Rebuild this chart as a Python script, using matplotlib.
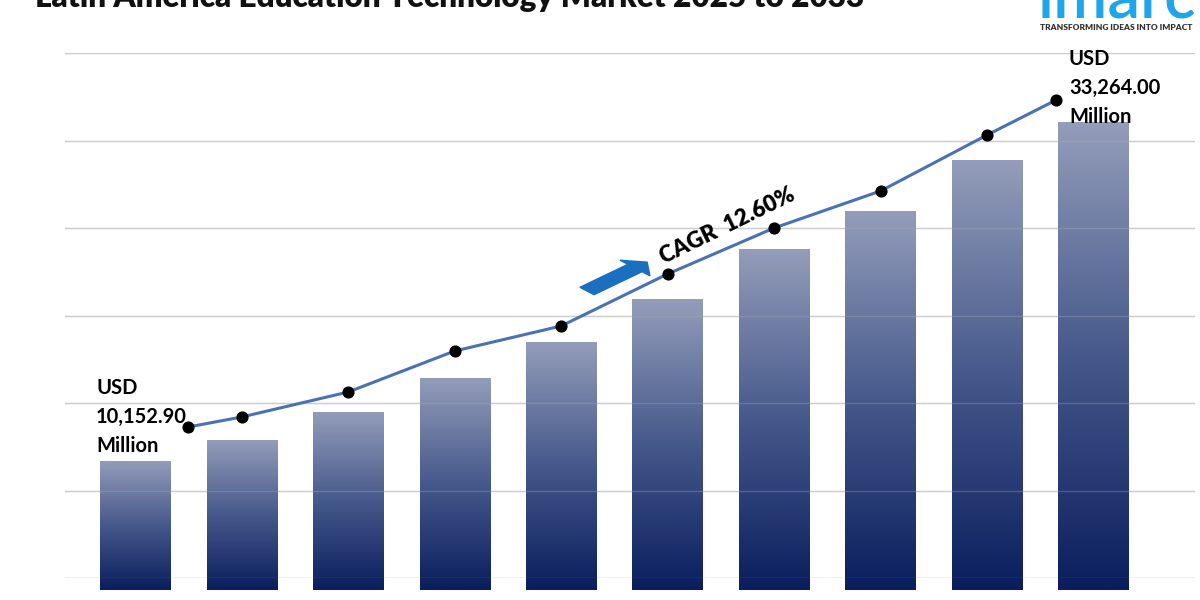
import numpy as np
import matplotlib.pyplot as plt
from matplotlib.colors import LinearSegmentedColormap
from matplotlib.patches import FancyArrow

# data (USD million)
years = list(range(2024, 2034))
bar_values = [9118, 10602, 12581, 14984, 17529, 20568, 24102, 26788, 30392, 33078]
line_values = [10152.9, 10857, 12623, 15521, 17288, 20964, 24215, 26830, 30788, 33264.0]
line_pos = [0.5, 1, 2, 3, 4, 5, 6, 7, 8, 8.65]
start_label = "USD\n10,152.90\nMillion"
end_label = "USD\n33,264.00\nMillion"
cagr_label = "CAGR  12.60%"
title = "Latin America Education Technology Market 2025 to 2033"

FONT = "Lato"
bar_cmap = LinearSegmentedColormap.from_list("bars", ["#0a1e5e", "#46598b", "#949dba"])
XLIM = (-1.27, 10.0)

fig = plt.figure(figsize=(12, 6), dpi=100)
fig.patch.set_facecolor("white")

# gridline frame
grid_box = [65 / 1200, 22 / 600, 1130 / 1200, 525 / 600]
grid_ax = fig.add_axes(grid_box)
grid_ax.set_ylim(0, 6)
for k in range(7):
    grid_ax.axhline(k, color="#d9d9d9", lw=1)
grid_ax.axis("off")

# bars with a vertical gradient
ax = fig.add_axes([0, 0, 1, 1], facecolor="none")
x = np.arange(len(years))
bars = ax.bar(x, bar_values, width=0.66, facecolor="none", edgecolor="none", zorder=2)
grad = np.linspace(1, 0, 256)[:, None]
for rect in bars:
    x0 = rect.get_x()
    im = ax.imshow(grad, extent=(x0, x0 + rect.get_width(), 0, rect.get_height()),
                   cmap=bar_cmap, aspect="auto", zorder=2)
    im.set_clip_path(rect)
ax.set_xlim(*XLIM)
ax.set_ylim(-707, 41700)
ax.axis("off")

# gridlines faintly visible over the bars
over = fig.add_axes(grid_box, facecolor="none")
over.set_ylim(0, 6)
for k in range(7):
    over.axhline(k, color="#b0b0b0", lw=1, alpha=0.3)
over.axis("off")

# growth line
lax = fig.add_axes([0, 0, 1, 1], facecolor="none")
zero_px = 600 - 570.6
scale = 70.68
lax.plot(line_pos, line_values, color="#4a72b3", lw=2.2, zorder=3)
lax.scatter(line_pos, line_values, s=60, color="black", zorder=4)
lax.set_xlim(*XLIM)
lax.set_ylim(-zero_px * scale, (600 - zero_px) * scale)
lax.axis("off")

# value labels
fig.text(96 / 1200, 1 - 378 / 600, start_label, ha="left", va="top", fontsize=14.5,
         fontweight="bold", family=FONT, linespacing=1.55)
fig.text(1069 / 1200, 1 - 49 / 600, end_label, ha="left", va="top", fontsize=14.5,
         fontweight="bold", family=FONT, linespacing=1.55)
fig.text(727 / 1200, 1 - 226 / 600, cagr_label, ha="center", va="center", fontsize=16,
         fontweight="heavy", family=FONT, rotation=26, rotation_mode="anchor")

# blue arrow
fig.patches.append(FancyArrow(
    587 / 1200, 1 - 291 / 600, 48 / 1200, 23 / 600, width=0.017, head_width=0.036,
    head_length=0.014, color="#1a6fc0", transform=fig.transFigure, figure=fig))

# title (cropped at the top like the reference)
fig.text(35 / 1200, 1 - 7 / 600, title, ha="left", va="baseline", fontsize=22.7,
         fontweight="heavy", family=FONT, color="#111111")

# logo
fig.text(1038 / 1200, 1 - 17 / 600, "imarc", ha="left", va="baseline", fontsize=47,
         fontweight="semibold", family=FONT, color="#1ea5ea")
fig.text(1116 / 1200, 1 - 27 / 600, "TRANSFORMING IDEAS INTO IMPACT", ha="center",
         va="center", fontsize=6, fontweight="heavy", family=FONT, color="#333333")

fig.savefig("out.png", dpi=100)
